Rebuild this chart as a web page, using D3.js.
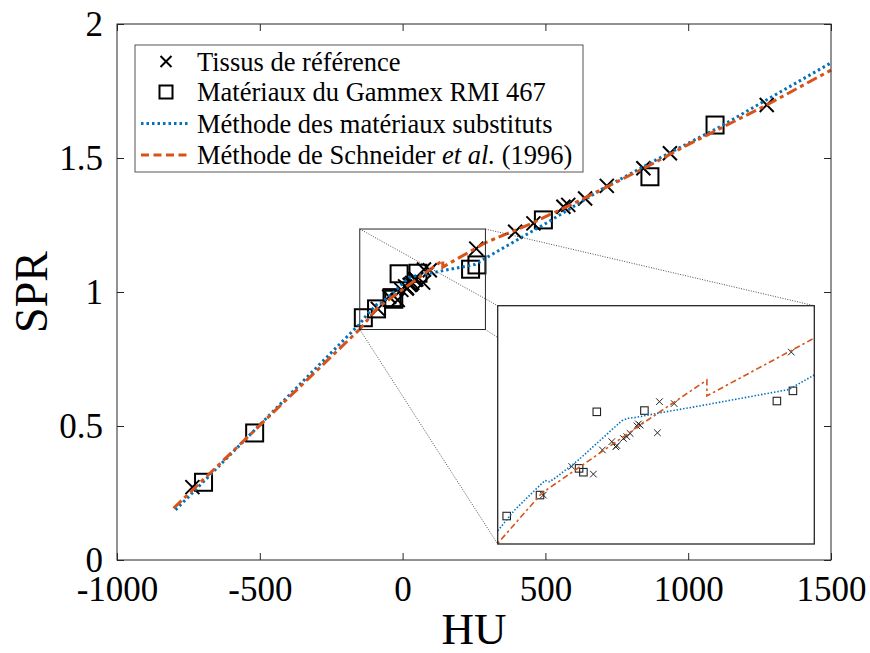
<!DOCTYPE html>
<html>
<head>
<meta charset="utf-8">
<script src="https://cdn.jsdelivr.net/npm/d3@7"></script>
<style>
body { margin: 0; background: #fff; }
text { font-family: "Liberation Serif", "DejaVu Serif", serif; fill: #000; }
</style>
</head>
<body>
<div id="chart"></div>
<script>
// reference tissues (x markers)
const refHU  = [-736, -86.6, -47.1, -17, -4.5, 8.6, 14.1, 15.5, 24.7, 29.4, 34, 43.4, 45.6, 48, 72, 74.8, 95.2, 258, 394, 458, 563, 580, 639, 715, 843, 936, 1275];
const refSPR = [0.272, 0.937, 0.982, 0.970, 1.008, 1.021, 1.013, 1.015, 1.026, 1.029, 1.034, 1.046, 1.049, 1.047, 1.035, 1.084, 1.081, 1.162, 1.225, 1.256, 1.318, 1.325, 1.349, 1.396, 1.462, 1.518, 1.698];

// Gammex RMI 467 inserts (squares)
const gamHU  = [-697, -518, -137.5, -91.2, -36.9, -30.9, -12.3, 53.9, 238, 260.3, 493, 866, 1094];
const gamSPR = [0.29, 0.474, 0.904, 0.937, 0.979, 0.973, 1.068, 1.070, 1.085, 1.101, 1.269, 1.430, 1.623];

// substitute materials method (blue dotted)
const subHU  = [-795, -149, -126, -93.5, -84, -78, -70, -38, 22.5, 31.7, 41, 73.4, 124.4, 254.2, 290, 500, 700, 900, 1100, 1500];
const subSPR = [0.187, 0.882, 0.914, 0.950, 0.960, 0.958, 0.964, 0.992, 1.054, 1.058, 1.059, 1.066, 1.076, 1.103, 1.126, 1.255, 1.385, 1.500, 1.610, 1.855];

// Schneider et al. (1996) (orange dash-dot)
const schHU  = [-802, -150, -88.8, -28.6, 48, 140.7, 140.7, 290, 450, 640, 860, 1000, 1275, 1500];
const schSPR = [0.193, 0.861, 0.940, 0.987, 1.047, 1.118, 1.093, 1.184, 1.255, 1.352, 1.470, 1.550, 1.698, 1.828];

const xTicks = [-1000, -500, 0, 500, 1000, 1500];
const yTicks = [0, 0.5, 1, 1.5, 2];
const legendLabels = ["Tissus de référence", "Matériaux du Gammex RMI 467", "Méthode des matériaux substituts", "Méthode de Schneider"];

const zoomHU = [-150, 290];
const zoomSPR = [0.86, 1.235];

const width = 870, height = 653;
const mLeft = 117, mRight = 831, mTop = 24, mBottom = 560;
const blue = "#0072BD", orange = "#D95319", axisCol = "#262626";

const svg = d3.select("#chart").append("svg").attr("width", width).attr("height", height);

const x = d3.scaleLinear().domain([-1000, 1500]).range([mLeft, mRight]);
const y = d3.scaleLinear().domain([0, 2]).range([mBottom, mTop]);

const refData = refHU.map((h, i) => ({h: h, s: refSPR[i]}));
const gamData = gamHU.map((h, i) => ({h: h, s: gamSPR[i]}));
const subData = subHU.map((h, i) => ({h: h, s: subSPR[i]}));
const schData = schHU.map((h, i) => ({h: h, s: schSPR[i]}));

function drawMarks(g, xs, ys, sq, cr, lw, sw, col) {
    g.selectAll(".sq").data(gamData).enter().append("rect")
        .attr("x", d => xs(d.h) - sq / 2).attr("y", d => ys(d.s) - sq / 2)
        .attr("width", sq).attr("height", sq)
        .attr("fill", "none").attr("stroke", col).attr("stroke-width", sw);
    g.selectAll(".cr").data(refData).enter().append("path")
        .attr("transform", d => `translate(${xs(d.h)},${ys(d.s)})`)
        .attr("d", `M${-cr},${-cr}L${cr},${cr}M${-cr},${cr}L${cr},${-cr}`)
        .attr("stroke", col).attr("stroke-width", lw);
}

function drawLines(g, xs, ys, w, dotDash, dashDash) {
    const line = d3.line().x(d => xs(d.h)).y(d => ys(d.s));
    g.append("path").datum(subData).attr("d", line)
        .attr("fill", "none").attr("stroke", blue).attr("stroke-width", w)
        .attr("stroke-dasharray", dotDash);
    g.append("path").datum(schData).attr("d", line)
        .attr("fill", "none").attr("stroke", orange).attr("stroke-width", w)
        .attr("stroke-dasharray", dashDash);
}

// main axes
const main = svg.append("g");
drawMarks(main, x, y, 17, 7, 2, 2, "#000");
drawLines(main, x, y, 3, "2.5,3", "11,4,4,4");

// zoom rectangle and connectors
const rx0 = x(zoomHU[0]), rx1 = x(zoomHU[1]), ry0 = y(zoomSPR[1]), ry1 = y(zoomSPR[0]);
const ix0 = 497.7, ix1 = 814.3, iy0 = 305.7, iy1 = 544;
[[rx0, ry0, ix0, iy0], [rx1, ry0, ix1, iy0], [rx0, ry1, ix0, iy1], [rx1, ry1, ix1, iy1]].forEach(c => {
    svg.append("line").attr("x1", c[0]).attr("y1", c[1]).attr("x2", c[2]).attr("y2", c[3])
        .attr("stroke", "#000").attr("stroke-width", 0.7).attr("stroke-dasharray", "1,1.5");
});
svg.append("rect").attr("x", rx0).attr("y", ry0).attr("width", rx1 - rx0).attr("height", ry1 - ry0)
    .attr("fill", "none").attr("stroke", axisCol).attr("stroke-width", 1);

// axes
const xAxis = svg.append("g").attr("transform", `translate(0,${mBottom})`)
    .call(d3.axisBottom(x).tickValues(xTicks).tickSize(-7).tickPadding(16).tickFormat(d3.format("d")));
const xTop = svg.append("g").attr("transform", `translate(0,${mTop})`)
    .call(d3.axisTop(x).tickValues(xTicks).tickSize(-7).tickFormat(""));
const yAxis = svg.append("g").attr("transform", `translate(${mLeft},0)`)
    .call(d3.axisLeft(y).tickValues(yTicks).tickSize(-7).tickPadding(14).tickFormat(d => d));
const yRight = svg.append("g").attr("transform", `translate(${mRight},0)`)
    .call(d3.axisRight(y).tickValues(yTicks).tickSize(-7).tickFormat(""));
[xAxis, xTop, yAxis, yRight].forEach(a => {
    a.select(".domain").remove();
    a.selectAll("line").attr("stroke", axisCol);
    a.selectAll("text").attr("font-size", 35).attr("fill", "#000")
        .style("font-family", "'Liberation Serif', serif");
});
xAxis.selectAll("text").text(d => d < 0 ? "-" + Math.abs(d) : d);
svg.append("rect").attr("x", mLeft).attr("y", mTop).attr("width", mRight - mLeft).attr("height", mBottom - mTop)
    .attr("fill", "none").attr("stroke", axisCol).attr("stroke-width", 1);

svg.append("text").attr("x", (mLeft + mRight) / 2).attr("y", 644).attr("text-anchor", "middle")
    .attr("font-size", 45).text("HU");
svg.append("text").attr("transform", `translate(47,${(mTop + mBottom) / 2}) rotate(-90)`)
    .attr("text-anchor", "middle").attr("font-size", 46).text("SPR");

// inset
const ix = d3.scaleLinear().domain(zoomHU).range([ix0, ix1]);
const iy = d3.scaleLinear().domain(zoomSPR).range([iy1, iy0]);
svg.append("clipPath").attr("id", "clipInset").append("rect")
    .attr("x", ix0).attr("y", iy0).attr("width", ix1 - ix0).attr("height", iy1 - iy0);
svg.append("rect").attr("x", ix0).attr("y", iy0).attr("width", ix1 - ix0).attr("height", iy1 - iy0)
    .attr("fill", "#fff");
const inset = svg.append("g").attr("clip-path", "url(#clipInset)");
drawMarks(inset, ix, iy, 7.5, 3.3, 1, 1.1, "#222");
drawLines(inset, ix, iy, 1.6, "1.5,1.8", "6,3,2.5,3");
svg.append("rect").attr("x", ix0).attr("y", iy0).attr("width", ix1 - ix0).attr("height", iy1 - iy0)
    .attr("fill", "none").attr("stroke", axisCol).attr("stroke-width", 1.3);

// legend
const lg = svg.append("g");
lg.append("rect").attr("x", 135).attr("y", 45).attr("width", 448).attr("height", 127)
    .attr("fill", "#fff").attr("stroke", "#555").attr("stroke-width", 1);
const rowY = [61.5, 92, 123.5, 155];
const sx0 = 141, sx1 = 190, sxc = 166, tx = 197;
lg.append("path").attr("d", `M${sxc - 5.5},${rowY[0] - 5.5}L${sxc + 5.5},${rowY[0] + 5.5}M${sxc - 5.5},${rowY[0] + 5.5}L${sxc + 5.5},${rowY[0] - 5.5}`)
    .attr("stroke", "#000").attr("stroke-width", 2);
lg.append("rect").attr("x", sxc - 6.5).attr("y", rowY[1] - 6.5).attr("width", 13).attr("height", 13)
    .attr("fill", "none").attr("stroke", "#000").attr("stroke-width", 2);
lg.append("line").attr("x1", sx0).attr("x2", sx1).attr("y1", rowY[2]).attr("y2", rowY[2])
    .attr("stroke", blue).attr("stroke-width", 3).attr("stroke-dasharray", "2.5,3");
lg.append("line").attr("x1", sx0).attr("x2", sx1).attr("y1", rowY[3]).attr("y2", rowY[3])
    .attr("stroke", orange).attr("stroke-width", 3).attr("stroke-dasharray", "8,4.5");
legendLabels.forEach((t, i) => {
    const txt = lg.append("text").attr("x", tx).attr("y", rowY[i]).attr("dy", "0.35em")
        .attr("font-size", 26.5).text(t);
    if (i === 3) {
        txt.append("tspan").text(" ");
        txt.append("tspan").attr("font-style", "italic").text("et al.");
        txt.append("tspan").text(" (1996)");
    }
});
</script>
</body>
</html>
